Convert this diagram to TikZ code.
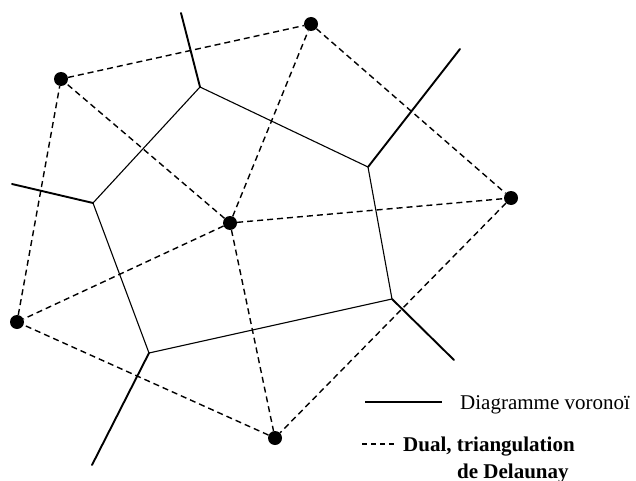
\documentclass[tikz,border=0pt]{standalone}
\usepackage{fontspec}
\setmainfont{Liberation Serif}
\begin{document}
\begin{tikzpicture}[x=1pt,y=-1pt,
  site/.style={circle,fill=black,inner sep=0pt,minimum size=14pt},
  vor/.style={line width=1.1pt},
  ray/.style={line width=1.9pt},
  dual/.style={line width=1.4pt,dash pattern=on 6pt off 4pt},
  lbl/.style={inner sep=0pt,font=\fontsize{21}{25}\selectfont}]
\useasboundingbox (0,0) rectangle (636,481);
% sites
\node[site] (A) at (61,79) {};
\node[site] (B) at (311,24) {};
\node[site] (C) at (511,198) {};
\node[site] (D) at (230,223) {};
\node[site] (E) at (17,322) {};
\node[site] (F) at (275,438) {};
% voronoi vertices
\coordinate (V1) at (200,87);
\coordinate (V2) at (368,167);
\coordinate (V3) at (93,203);
\coordinate (V4) at (392,299);
\coordinate (V5) at (149,353);
% ray ends
\coordinate (R1) at (181,13);
\coordinate (R2) at (460,49);
\coordinate (R3) at (12,184);
\coordinate (R4) at (454,360);
\coordinate (R5) at (92,465);
% delaunay
\draw[dual] (A) -- (B);
\draw[dual] (B) -- (C);
\draw[dual] (C) -- (F);
\draw[dual] (F) -- (E);
\draw[dual] (E) -- (A);
\draw[dual] (D) -- (A);
\draw[dual] (D) -- (B);
\draw[dual] (D) -- (C);
\draw[dual] (D) -- (E);
\draw[dual] (D) -- (F);
% voronoi edges
\draw[vor] (V1) -- (V2) -- (V4) -- (V5) -- (V3) -- cycle;
\draw[ray,line cap=round] (V1) -- (R1);
\draw[ray,line cap=round] (V2) -- (R2);
\draw[ray,line cap=round] (V3) -- (R3);
\draw[ray,line cap=round] (V4) -- (R4);
\draw[ray,line cap=round] (V5) -- (R5);
% legend
\coordinate (L1a) at (365,402);
\coordinate (L1b) at (442,402);
\draw[vor] (L1a) -- (L1b);
\node[lbl,anchor=base west] (T1) at (460,409) {Diagramme voronoï};
\coordinate (L2a) at (362,444);
\coordinate (L2b) at (396,444);
\draw[line width=1.4pt,dash pattern=on 5pt off 4pt] (L2a) -- (L2b);
\node[lbl,anchor=base west,font=\fontsize{21}{25}\selectfont\bfseries] (T2) at (403,451) {Dual, triangulation};
\node[lbl,anchor=base west,font=\fontsize{21}{25}\selectfont\bfseries] (T3) at (457,478) {de Delaunay};
\end{tikzpicture}
\end{document}
